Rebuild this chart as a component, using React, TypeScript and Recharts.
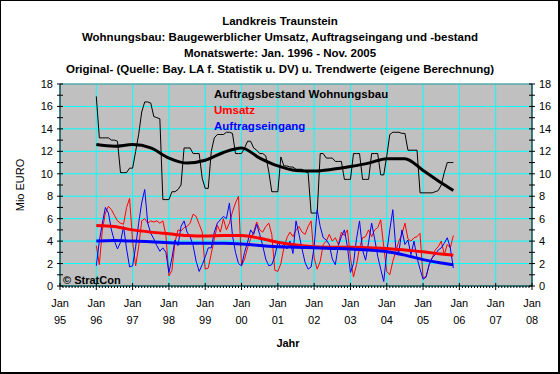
import React from 'react';
import { LineChart, Line, XAxis, YAxis, CartesianGrid, ReferenceLine } from 'recharts';

// monthly values, Jan 1996 .. Nov 2005 (one row per year)
const auftragsbestand = [
  16.9, 13.2, 13.2, 13.2, 13.2, 13.0, 13.0, 12.9, 10.1, 10.1, 10.1, 10.5,
  10.5, 12.0, 13.5, 15.5, 16.4, 16.4, 16.3, 15.1, 15.0, 14.9, 7.7, 7.7,
  7.7, 8.4, 8.4, 8.6, 9.0, 12.3, 12.3, 12.3, 11.8, 11.8, 11.8, 9.6,
  8.7, 8.7, 12.0, 13.2, 13.5, 13.5, 13.5, 13.7, 13.7, 13.6, 11.8, 11.8,
  11.8, 12.3, 12.9, 12.9, 12.3, 12.1, 11.8, 11.8, 11.6, 10.2, 8.4, 8.4,
  8.4, 11.5, 10.7, 10.7, 10.6, 10.6, 10.4, 10.4, 10.4, 10.2, 10.1, 6.5,
  6.5, 6.5, 11.8, 11.8, 11.4, 11.4, 11.4, 11.1, 11.1, 11.1, 9.5, 9.5,
  9.5, 11.8, 11.8, 11.8, 9.5, 9.5, 9.5, 11.8, 11.8, 11.8, 9.9, 9.9,
  11.6, 13.5, 13.7, 13.7, 13.7, 13.6, 13.6, 12.1, 12.1, 12.1, 12.1, 8.3,
  8.3, 8.3, 8.3, 8.3, 8.4, 8.5, 9.0, 10.1, 11.0, 11.0, 11.0,
];

const umsatz = [
  3.6, 1.9, 5.0, 6.5, 7.1, 6.8, 6.3, 5.8, 5.6, 5.5, 7.0, 7.8,
  4.0, 1.8, 3.5, 5.8, 6.0, 5.6, 5.8, 5.7, 5.8, 5.6, 5.8, 4.5,
  0.9, 1.4, 3.9, 5.0, 4.9, 5.2, 5.3, 5.6, 6.4, 6.2, 5.5, 4.8,
  1.5, 1.6, 2.9, 4.2, 5.4, 4.8, 6.0, 5.0, 5.6, 6.6, 7.4, 8.0,
  1.8, 2.4, 3.4, 4.2, 4.8, 5.7, 5.0, 4.8, 5.3, 5.6, 4.6, 1.4,
  1.3, 2.0, 3.4, 4.3, 4.8, 4.4, 5.0, 5.3, 4.8, 4.6, 5.3, 5.8,
  2.5, 1.5, 2.2, 3.7, 4.0, 4.6, 4.0, 4.3, 3.7, 4.8, 4.5, 5.0,
  2.5, 0.8, 1.9, 3.4, 4.3, 4.4, 5.0, 4.4, 5.0, 5.2, 5.9, 3.5,
  1.3, 1.0, 2.2, 3.1, 4.0, 4.6, 5.6, 4.2, 4.0, 4.3, 4.4, 4.7,
  0.7, 0.85, 1.9, 2.5, 3.2, 3.5, 4.0, 2.8, 3.7, 3.4, 4.5,
];

const auftragseingang = [
  1.8, 4.0, 5.6, 7.0, 6.5, 5.0, 4.0, 3.3, 3.9, 5.3, 3.3, 1.7,
  1.8, 3.5, 5.6, 7.4, 8.6, 5.6, 4.7, 4.2, 3.6, 3.1, 3.4, 3.0,
  1.2, 2.5, 4.1, 3.6, 5.3, 5.8, 4.8, 4.4, 3.6, 2.2, 1.3, 1.9,
  2.6, 3.4, 3.4, 4.8, 5.6, 5.9, 6.2, 6.0, 7.4, 4.5, 3.0, 2.0,
  1.8, 3.0, 3.9, 5.0, 4.6, 5.5, 4.6, 3.6, 2.4, 1.8, 1.9, 2.65,
  3.9, 3.5, 3.7, 3.3, 4.0, 2.9, 5.8, 4.6, 3.3, 2.1, 1.5, 1.7,
  3.5, 6.8, 5.3, 4.3, 4.1, 3.7, 2.4, 1.9, 3.6, 4.4, 5.0, 3.5,
  1.2, 2.0, 4.2, 5.8, 3.2, 2.3, 3.9, 5.6, 4.2, 2.65, 1.5, 0.4,
  3.0, 5.0, 6.8, 3.3, 3.0, 5.0, 3.7, 4.1, 2.8, 4.0, 2.5, 1.5,
  0.6, 0.8, 1.9, 2.5, 2.8, 3.2, 3.4, 3.8, 4.3, 3.4, 1.6,
];

// trend values read every 6 months (month index from Jan 96)
const trendMonths = [0, 6, 12, 18, 24, 30, 36, 42, 48, 54, 60, 66, 72, 78, 84, 90, 96, 102, 108, 114, 118];
const trendBestand = [12.6, 12.45, 12.6, 12.3, 11.4, 10.95, 11.2, 11.9, 12.3, 11.4, 10.7, 10.3, 10.25, 10.4, 10.65, 10.95, 11.35, 11.35, 10.3, 9.2, 8.5];
const trendUmsatz = [5.4, 5.3, 5.0, 4.8, 4.65, 4.5, 4.45, 4.5, 4.5, 4.25, 3.9, 3.65, 3.5, 3.45, 3.45, 3.4, 3.35, 3.2, 3.05, 2.85, 2.75];
const trendEingang = [4.0, 4.05, 4.0, 3.95, 3.85, 3.8, 3.8, 3.8, 3.75, 3.6, 3.5, 3.45, 3.4, 3.35, 3.3, 3.2, 3.05, 2.75, 2.35, 2.05, 1.9];

const yearLabels = ['95', '96', '97', '98', '99', '00', '01', '02', '03', '04', '05', '06', '07', '08'];
const titleLines = [
  'Landkreis Traunstein',
  'Wohnungsbau: Baugewerblicher Umsatz, Auftragseingang und -bestand',
  'Monatswerte: Jan. 1996 - Nov. 2005',
  'Original- (Quelle: Bay. LA f. Statistik u. DV) u. Trendwerte (eigene Berechnung)',
];

// axis runs from Jan 95 (0) to Jan 08 (156) in months
const OFFSET = 12;
const monthTicks = Array.from({ length: 157 }, (_, i) => i);
const janTicks = yearLabels.map((_, i) => i * 12);
const yTicks = Array.from({ length: 19 }, (_, i) => i);
const yGrid = [0, 2, 4, 6, 8, 10, 12, 14, 16, 18];

const monthly = (vals: number[]) => vals.map((v, i) => ({ x: OFFSET + i, v }));
const trend = (vals: number[]) => vals.map((v, i) => ({ x: OFFSET + trendMonths[i], v }));

const FONT = '"Liberation Sans", Arial, sans-serif';

const XTick = (props: any) => {
  const { x, y, payload } = props;
  const val = payload.value;
  const major = val % 12 === 0;
  return (
    <g>
      <line x1={x} x2={x} y1={major ? y - 3 : y} y2={major ? y + 4 : y + 2} stroke="#000" />
      {major && (
        <text x={x} y={y + 21} textAnchor="middle" fontSize={11} fontFamily={FONT} fill="#000">
          <tspan x={x}>Jan</tspan>
          <tspan x={x} dy={17}>{yearLabels[val / 12]}</tspan>
        </text>
      )}
    </g>
  );
};

const YTick = (props: any) => {
  const { x, y, payload, side } = props;
  const val = payload.value;
  const major = val % 2 === 0;
  return (
    <g>
      <line x1={x - 3} x2={x + 3} y1={y} y2={y} stroke="#000" />
      {major && (
        <text
          x={side === 'left' ? x - 7 : x + 7}
          y={y + 4}
          textAnchor={side === 'left' ? 'end' : 'start'}
          fontSize={11}
          fontFamily={FONT}
          fill="#000"
        >
          {val}
        </text>
      )}
    </g>
  );
};

export default function App() {
  return (
    <div style={{ position: 'absolute', left: 0, top: 0, width: 560, height: 374, background: '#fff' }}>
      <LineChart width={560} height={374} margin={{ top: 84, right: 0, bottom: 0, left: 0 }}>
        <CartesianGrid
          yAxisId="left"
          fill="#c0c0c0"
          fillOpacity={1}
          stroke="#00ffff"
          horizontalValues={yGrid}
          verticalValues={janTicks}
        />
        <XAxis
          type="number"
          dataKey="x"
          domain={[0, 156]}
          ticks={monthTicks}
          interval={0}
          height={88}
          tickSize={0}
          tickMargin={0}
          tickLine={false}
          axisLine={{ stroke: '#000' }}
          tick={<XTick />}
          allowDataOverflow
        />
        <YAxis
          yAxisId="left"
          orientation="left"
          width={60}
          domain={[0, 18]}
          ticks={yTicks}
          interval={0}
          tickSize={0}
          tickMargin={0}
          tickLine={false}
          axisLine={{ stroke: '#000' }}
          tick={<YTick side="left" />}
        />
        <YAxis
          yAxisId="right"
          orientation="right"
          width={28}
          domain={[0, 18]}
          ticks={yTicks}
          interval={0}
          tickSize={0}
          tickMargin={0}
          tickLine={false}
          axisLine={{ stroke: '#000' }}
          tick={<YTick side="right" />}
        />
        <ReferenceLine yAxisId="left" y={18} stroke="#808080" />
        <Line yAxisId="left" data={monthly(auftragsbestand)} dataKey="v" type="linear" stroke="#000" strokeWidth={1} dot={false} isAnimationActive={false} />
        <Line yAxisId="left" data={monthly(umsatz)} dataKey="v" type="linear" stroke="#ff0000" strokeWidth={1} dot={false} isAnimationActive={false} />
        <Line yAxisId="left" data={monthly(auftragseingang)} dataKey="v" type="linear" stroke="#0000ff" strokeWidth={1} dot={false} isAnimationActive={false} />
        <Line yAxisId="right" data={trend(trendBestand)} dataKey="v" type="monotone" stroke="#000" strokeWidth={3} dot={false} isAnimationActive={false} />
        <Line yAxisId="right" data={trend(trendUmsatz)} dataKey="v" type="monotone" stroke="#ff0000" strokeWidth={3} dot={false} isAnimationActive={false} />
        <Line yAxisId="right" data={trend(trendEingang)} dataKey="v" type="monotone" stroke="#0000ff" strokeWidth={3} dot={false} isAnimationActive={false} />
      </LineChart>

      <svg width={560} height={374} style={{ position: 'absolute', left: 0, top: 0, pointerEvents: 'none' }}>
        {titleLines.map((t, i) => (
          <text key={t} x={280} y={25 + i * 16} textAnchor="middle" fontSize={11.5} fontWeight="bold" fontFamily={FONT} fill="#000">
            {t}
          </text>
        ))}
        <text x={214} y={98} fontSize={11.5} fontWeight="bold" fontFamily={FONT} fill="#000">Auftragsbestand Wohnungsbau</text>
        <text x={214} y={114} fontSize={11.5} fontWeight="bold" fontFamily={FONT} fill="#ff0000">Umsatz</text>
        <text x={214} y={130} fontSize={11.5} fontWeight="bold" fontFamily={FONT} fill="#0000ff">Auftragseingang</text>
        <text x={63} y={284} fontSize={11} fontWeight="bold" fontFamily={FONT} fill="#000">© StratCon</text>
        <text x={24} y={185} transform="rotate(-90 24 185)" textAnchor="middle" fontSize={11} fontFamily={FONT} fill="#000">Mio EURO</text>
        <text x={288} y={347} textAnchor="middle" fontSize={11} fontWeight="bold" fontFamily={FONT} fill="#000">Jahr</text>
        <rect x={0.5} y={0.5} width={558} height={372} fill="none" stroke="#000" />
        <line x1={559.5} y1={0} x2={559.5} y2={374} stroke="#000" />
        <line x1={0} y1={373.5} x2={560} y2={373.5} stroke="#000" />
      </svg>
    </div>
  );
}
